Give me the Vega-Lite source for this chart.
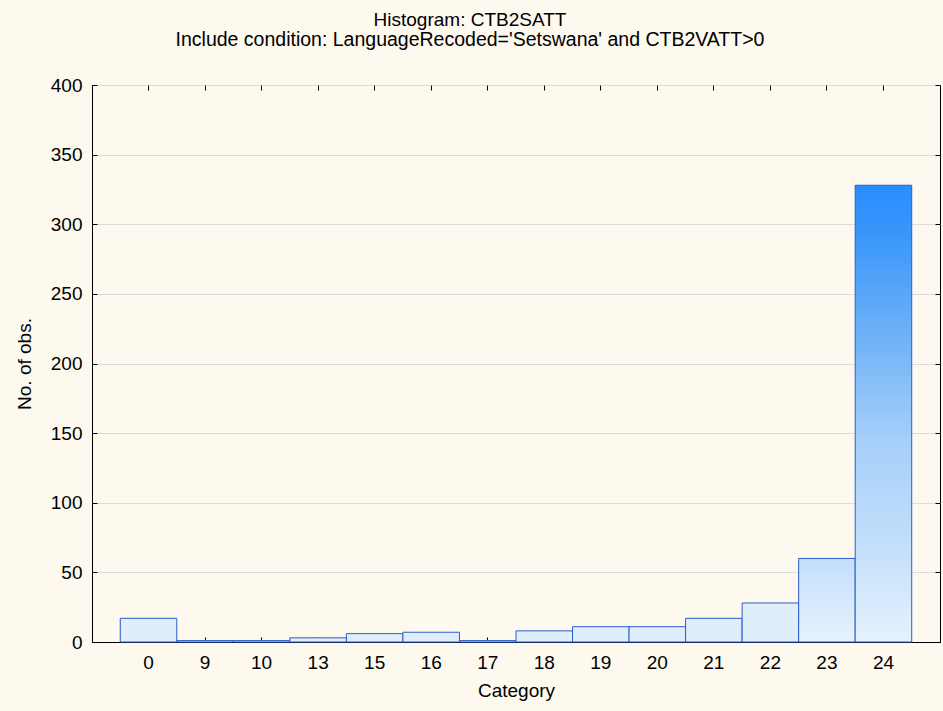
{
  "$schema": "https://vega.github.io/schema/vega-lite/v6.json",
  "width": 848,
  "height": 557,
  "autosize": {"type": "none"},
  "padding": {"left": 92, "top": 85, "right": 3, "bottom": 69},
  "background": "#fdf9ee",
  "title": {
    "text": "Histogram: CTB2SATT",
    "subtitle": "Include condition: LanguageRecoded='Setswana' and CTB2VATT>0",
    "anchor": "middle",
    "dx": -46,
    "offset": 27,
    "font": "Liberation Sans",
    "fontSize": 19,
    "fontWeight": "normal",
    "color": "#000000",
    "subtitleFont": "Liberation Sans",
    "subtitleFontSize": 19.5,
    "subtitleColor": "#000000",
    "subtitlePadding": 1
  },
  "data": {
    "values": [
      {"Category": 0, "count": 17},
      {"Category": 9, "count": 1},
      {"Category": 10, "count": 1},
      {"Category": 13, "count": 3},
      {"Category": 15, "count": 6},
      {"Category": 16, "count": 7},
      {"Category": 17, "count": 1},
      {"Category": 18, "count": 8},
      {"Category": 19, "count": 11},
      {"Category": 20, "count": 11},
      {"Category": 21, "count": 17},
      {"Category": 22, "count": 28},
      {"Category": 23, "count": 60},
      {"Category": 24, "count": 328}
    ]
  },
  "layer": [
    {
      "mark": {"type": "bar", "stroke": "#2a5ccf", "strokeWidth": 1},
      "encoding": {
        "x": {
          "field": "Category",
          "type": "ordinal",
          "scale": {"paddingInner": 0, "paddingOuter": 0.5},
          "axis": {
            "orient": "bottom",
            "labelAngle": 0,
            "title": "Category",
            "tickSize": -5,
            "labelPadding": 16,
            "titlePadding": 9
          }
        },
        "y": {
          "field": "count",
          "type": "quantitative",
          "scale": {"domain": [0, 400], "nice": false},
          "axis": {
            "orient": "left",
            "title": "No. of obs.",
            "values": [0, 50, 100, 150, 200, 250, 300, 350, 400],
            "grid": true,
            "tickSize": -5,
            "labelPadding": 15,
            "titlePadding": 16
          }
        },
        "fill": {
          "condition": [
            {
              "test": "datum.count > 100",
              "value": {
                "gradient": "linear",
                "x1": 0, "y1": 1, "x2": 0, "y2": 0,
                "stops": [
                  {"offset": 0, "color": "#e6f2fd"},
                  {"offset": 0.2, "color": "#c4e0fb"},
                  {"offset": 0.45, "color": "#a5cef9"},
                  {"offset": 0.7, "color": "#66aef7"},
                  {"offset": 0.9, "color": "#3896fa"},
                  {"offset": 1, "color": "#2a8dff"}
                ]
              }
            },
            {
              "test": "datum.count >= 40",
              "value": {
                "gradient": "linear",
                "x1": 0, "y1": 1, "x2": 0, "y2": 0,
                "stops": [
                  {"offset": 0, "color": "#e6f2fd"},
                  {"offset": 1, "color": "#c4dffb"}
                ]
              }
            }
          ],
          "value": "#e0eefc"
        }
      }
    },
    {
      "mark": {"type": "bar", "opacity": 0},
      "encoding": {
        "x": {
          "field": "Category",
          "type": "ordinal",
          "axis": {"orient": "top", "labels": false, "title": null, "tickSize": -5, "domain": false}
        },
        "y": {
          "field": "count",
          "type": "quantitative",
          "axis": {"orient": "right", "labels": false, "title": null, "grid": false, "tickSize": -5, "domain": false,
                   "values": [0, 50, 100, 150, 200, 250, 300, 350, 400]}
        }
      }
    }
  ],
  "resolve": {"axis": {"x": "independent", "y": "independent"}},
  "config": {
    "view": {"stroke": "#000000", "strokeWidth": 1},
    "axis": {
      "domainColor": "#000000",
      "tickColor": "#000000",
      "gridColor": "#dcdcdc",
      "labelFont": "Liberation Sans",
      "labelFontSize": 19,
      "labelColor": "#000000",
      "titleFont": "Liberation Sans",
      "titleFontSize": 19,
      "titleFontWeight": "normal",
      "titleColor": "#000000"
    }
  }
}
